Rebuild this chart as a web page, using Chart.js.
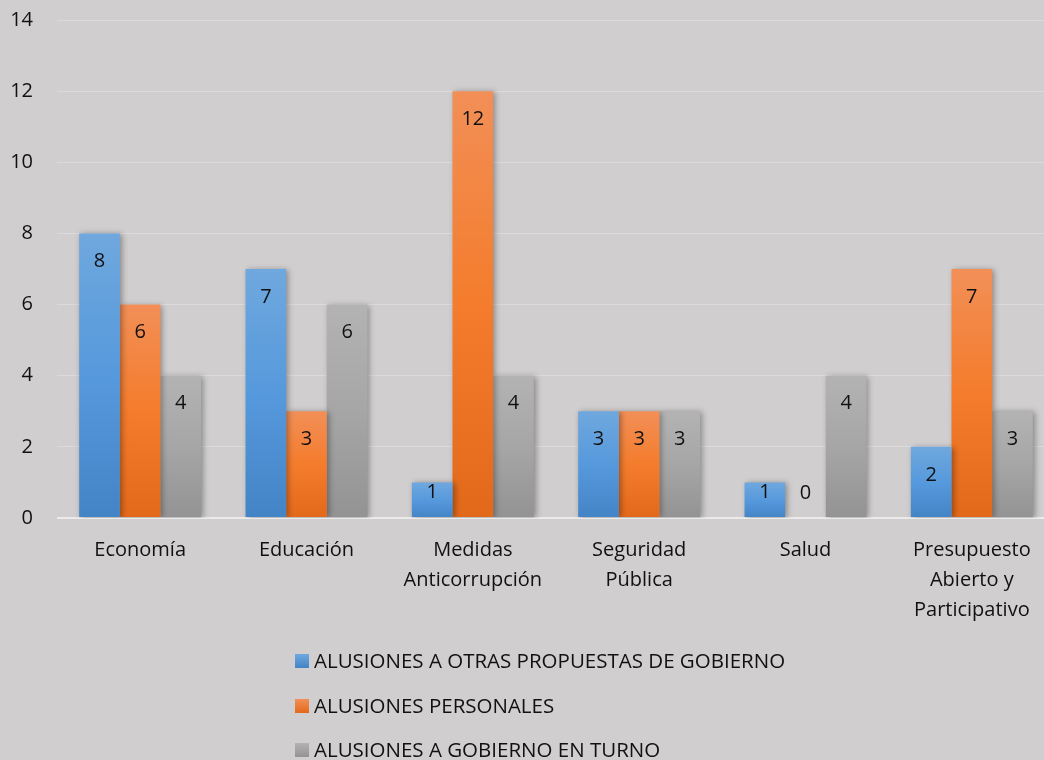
<!DOCTYPE html>
<html>
<head>
<meta charset="utf-8">
<script src="https://cdn.jsdelivr.net/npm/chart.js@4.4.1/dist/chart.umd.min.js"></script>
<style>
  html, body { margin: 0; padding: 0; background: #d0cece; overflow: hidden; }
  #wrap { width: 1060px; height: 760px; position: relative; }
</style>
</head>
<body>
<div id="wrap"><canvas id="chart"></canvas></div>
<script>
// datos del grafico
const categories = ['Economía', 'Educación', ['Medidas', 'Anticorrupción'], ['Seguridad', 'Pública'], 'Salud', ['Presupuesto', 'Abierto y', 'Participativo']];
const seriesNames = ['ALUSIONES A OTRAS PROPUESTAS DE GOBIERNO', 'ALUSIONES PERSONALES', 'ALUSIONES A GOBIERNO EN TURNO'];
const otrasPropuestas = [8, 7, 1, 3, 1, 2];
const personales = [6, 3, 12, 3, 0, 7];
const gobiernoTurno = [4, 6, 4, 3, 4, 3];
const yMax = 14;
const yStep = 2;

const FONT = '"Open Sans", "DejaVu Sans", sans-serif';

// colores degradados (arriba, medio, abajo)
const palette = [
    ['#6fa8de', '#5699dc', '#4384c6'],
    ['#f28f57', '#f47c2c', '#e3691a'],
    ['#b3b3b3', '#a6a6a6', '#939393']
];

function barGradient(ctx, i) {
    const chart = ctx.chart;
    if (!chart.chartArea || ctx.type !== 'data') return palette[i][1];
    const y = chart.scales.y;
    const top = y.getPixelForValue(ctx.raw);
    const bottom = y.getPixelForValue(0);
    if (!(bottom - top > 0)) return palette[i][1];
    const g = chart.ctx.createLinearGradient(0, top, 0, bottom);
    g.addColorStop(0, palette[i][0]);
    g.addColorStop(0.5, palette[i][1]);
    g.addColorStop(1, palette[i][2]);
    return g;
}

// sombra de las barras
const shadowPlugin = {
    id: 'barShadow',
    beforeDatasetsDraw(chart) {
        const ctx = chart.ctx;
        ctx.save();
        ctx.shadowColor = 'rgba(0,0,0,0.35)';
        ctx.shadowBlur = 6;
        ctx.shadowOffsetX = 2;
        ctx.shadowOffsetY = 1;
    },
    afterDatasetsDraw(chart) {
        chart.ctx.restore();
    }
};

// etiquetas de valores dentro de las barras
const valueLabels = {
    id: 'valueLabels',
    afterDatasetsDraw(chart) {
        const ctx = chart.ctx;
        ctx.save();
        ctx.font = '20px ' + FONT;
        ctx.fillStyle = '#111';
        ctx.textAlign = 'center';
        ctx.textBaseline = 'middle';
        chart.data.datasets.forEach((ds, i) => {
            const meta = chart.getDatasetMeta(i);
            meta.data.forEach((bar, j) => {
                const y = Math.min(bar.y + 28, bar.base - 25);
                ctx.fillText(String(ds.data[j]), bar.x, y);
            });
        });
        ctx.restore();
    }
};

// leyenda vertical debajo del grafico
const columnLegend = {
    id: 'columnLegend',
    afterDraw(chart) {
        const ctx = chart.ctx;
        const left = 295;
        const rows = [661, 706, 750];
        ctx.save();
        ctx.font = '20.5px ' + FONT;
        ctx.textBaseline = 'middle';
        ctx.textAlign = 'left';
        chart.data.datasets.forEach((ds, i) => {
            const y = rows[i];
            const g = ctx.createLinearGradient(0, y - 7, 0, y + 7);
            g.addColorStop(0, palette[i][0]);
            g.addColorStop(1, palette[i][2]);
            ctx.fillStyle = g;
            ctx.fillRect(left, y - 7, 14, 14);
            ctx.fillStyle = '#111';
            ctx.fillText(ds.label, left + 19, y + 1);
        });
        ctx.restore();
    }
};

const seriesData = [otrasPropuestas, personales, gobiernoTurno];

new Chart(document.getElementById('chart'), {
    type: 'bar',
    data: {
        labels: categories,
        datasets: seriesData.map((d, i) => ({
            label: seriesNames[i],
            data: d,
            backgroundColor: ctx => barGradient(ctx, i),
            borderWidth: 0,
            barPercentage: 1,
            categoryPercentage: 0.733
        }))
    },
    options: {
        responsive: true,
        maintainAspectRatio: false,
        animation: false,
        layout: { padding: { top: 0, left: 0, right: 5, bottom: 0 } },
        plugins: {
            legend: { display: false },
            tooltip: { enabled: false }
        },
        scales: {
            x: {
                grid: { display: false, drawTicks: false },
                border: { display: false },
                ticks: {
                    color: '#111',
                    padding: 17,
                    maxRotation: 0,
                    autoSkip: false,
                    font: { family: FONT, size: 20, lineHeight: 1.5 }
                },
                afterFit(scale) { scale.height = 242; }
            },
            y: {
                min: 0,
                max: yMax,
                ticks: {
                    stepSize: yStep,
                    color: '#111',
                    padding: 24,
                    font: { family: FONT, size: 20 }
                },
                border: { display: false },
                grid: {
                    drawTicks: false,
                    color: ctx => ctx.tick.value === 0 ? 'rgba(240,240,240,0.85)' : '#dcdada',
                    lineWidth: ctx => ctx.tick.value === 0 ? 2 : 1
                },
                afterFit(scale) {
                    scale.width = 57;
                    scale.paddingTop = 20;
                    scale.paddingBottom = 0;
                }
            }
        }
    },
    plugins: [shadowPlugin, valueLabels, columnLegend]
});
</script>
</body>
</html>
